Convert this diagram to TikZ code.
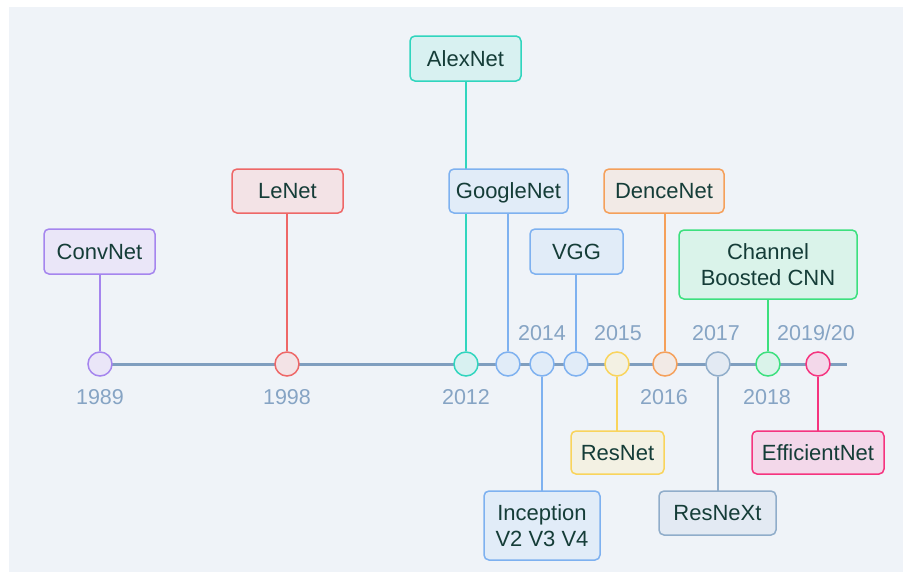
\documentclass[tikz,border=0pt]{standalone}
\usepackage{fontspec}
\setmainfont{Liberation Sans}
% palette
\definecolor{panel}{HTML}{EFF3F8}
\definecolor{txt}{HTML}{153D38}
\definecolor{yearc}{HTML}{86A4C4}
\definecolor{tl}{HTML}{7F9EBF}
\definecolor{cvB}{HTML}{A585EE}\definecolor{cvF}{HTML}{EAE6F8}
\definecolor{leB}{HTML}{EE6767}\definecolor{leF}{HTML}{F3E3E6}
\definecolor{alB}{HTML}{30D5BE}\definecolor{alF}{HTML}{D8F1F1}
\definecolor{goB}{HTML}{7EB1F0}\definecolor{goF}{HTML}{E1ECF8}
\definecolor{reB}{HTML}{F9D45C}\definecolor{reF}{HTML}{F3F1E3}
\definecolor{deB}{HTML}{F5A05A}\definecolor{deF}{HTML}{F2EAE6}
\definecolor{rxB}{HTML}{90ADCA}\definecolor{rxF}{HTML}{E3EAF3}
\definecolor{chB}{HTML}{3CE07E}\definecolor{chF}{HTML}{DAF3EA}
\definecolor{efB}{HTML}{F5347F}\definecolor{efF}{HTML}{F3D8EA}
\begin{document}
\begin{tikzpicture}[x=1pt,y=-1pt,
  box/.style={draw, rounded corners=5pt, line width=1.5pt, text=txt,
    font=\fontsize{22}{26}\selectfont, align=center, inner sep=0pt},
  oneline/.style={text depth=0pt},
  dot/.style={circle, draw, line width=1.5pt, minimum size=24pt, inner sep=0pt},
  yr/.style={text=yearc, font=\fontsize{21.5}{25}\selectfont, anchor=base},
  link/.style={line width=1.5pt}]
\useasboundingbox (0,0) rectangle (903,573);
\fill[white] (0,0) rectangle (903,573);
\fill[panel] (9,7) rectangle (903,572);

% timeline
\coordinate (tlstart) at (100,364);
\coordinate (tlend) at (847,364);
\draw[line width=3pt, tl] (tlstart) -- (tlend);

% milestones on the axis
\node[dot, draw=cvB, fill=cvF] (c89) at (100,364) {};
\node[dot, draw=leB, fill=leF] (c98) at (287,364) {};
\node[dot, draw=alB, fill=alF] (c12) at (466,364) {};
\node[dot, draw=goB, fill=goF] (cgo) at (508,364) {};
\node[dot, draw=goB, fill=goF] (c14) at (542,364) {};
\node[dot, draw=goB, fill=goF] (cvg) at (576,364) {};
\node[dot, draw=reB, fill=reF] (c15) at (617,364) {};
\node[dot, draw=deB, fill=deF] (c16) at (665,364) {};
\node[dot, draw=rxB, fill=rxF] (c17) at (718,364) {};
\node[dot, draw=chB, fill=chF] (c18) at (768,364) {};
\node[dot, draw=efB, fill=efF] (c19) at (818,364) {};

% connectors first so that the boxes cover them
\coordinate (pConv) at (100,274);
\coordinate (pLe) at (287,213);
\coordinate (pAl) at (466,81);
\coordinate (pGo) at (508,213);
\coordinate (pVg) at (576,274);
\coordinate (pDe) at (665,213);
\coordinate (pCh) at (768,299);
\coordinate (pIn) at (542,491);
\coordinate (pRe) at (617,431);
\coordinate (pRx) at (718,491);
\coordinate (pEf) at (818,431);
\draw[link, cvB] (pConv) -- (c89.north);
\draw[link, leB] (pLe) -- (c98.north);
\draw[link, alB] (pAl) -- (c12.north);
\draw[link, goB] (pGo) -- (cgo.north);
\draw[link, goB] (pVg) -- (cvg.north);
\draw[link, deB] (pDe) -- (c16.north);
\draw[link, chB] (pCh) -- (c18.north);
\draw[link, goB] (c14.south) -- (pIn);
\draw[link, reB] (c15.south) -- (pRe);
\draw[link, rxB] (c17.south) -- (pRx);
\draw[link, efB] (c19.south) -- (pEf);

% model boxes
\node[box, oneline, draw=cvB, fill=cvF, minimum width=111pt, minimum height=45pt] (convnet) at (99.5,251.5) {ConvNet};
\node[box, oneline, draw=leB, fill=leF, minimum width=111pt, minimum height=44pt] (lenet) at (287.5,191) {LeNet};
\node[box, oneline, draw=alB, fill=alF, minimum width=111pt, minimum height=45pt] (alexnet) at (465.5,58.5) {AlexNet};
\node[box, oneline, draw=goB, fill=goF, minimum width=119pt, minimum height=44pt] (googlenet) at (508.5,191) {GoogleNet};
\node[box, oneline, draw=goB, fill=goF, minimum width=93pt, minimum height=45pt] (vgg) at (576.5,251.5) {VGG};
\node[box, oneline, draw=deB, fill=deF, minimum width=120pt, minimum height=44pt] (dencenet) at (664,191) {DenceNet};
\node[box, draw=chB, fill=chF, minimum width=178pt, minimum height=69pt] (channel) at (768,264.5) {Channel\\Boosted CNN};
\node[box, draw=goB, fill=goF, minimum width=116pt, minimum height=69pt] (inception) at (542,525.5) {Inception\\V2 V3 V4};
\node[box, oneline, draw=reB, fill=reF, minimum width=93pt, minimum height=43pt] (resnet) at (617.5,452.5) {ResNet};
\node[box, oneline, draw=rxB, fill=rxF, minimum width=117pt, minimum height=44pt] (resnext) at (717.5,513) {ResNeXt};
\node[box, oneline, draw=efB, fill=efF, minimum width=132pt, minimum height=43pt] (efficientnet) at (818,452.5) {EfficientNet};

% year labels
\node[yr] (y89) at (100,404) {1989};
\node[yr] (y98) at (287,404) {1998};
\node[yr] (y12) at (466,404) {2012};
\node[yr] (y14) at (542,340) {2014};
\node[yr] (y15) at (618,340) {2015};
\node[yr] (y16) at (664,404) {2016};
\node[yr] (y17) at (716,340) {2017};
\node[yr] (y18) at (767,404) {2018};
\node[yr] (y19) at (816,340) {2019/20};
\end{tikzpicture}
\end{document}
